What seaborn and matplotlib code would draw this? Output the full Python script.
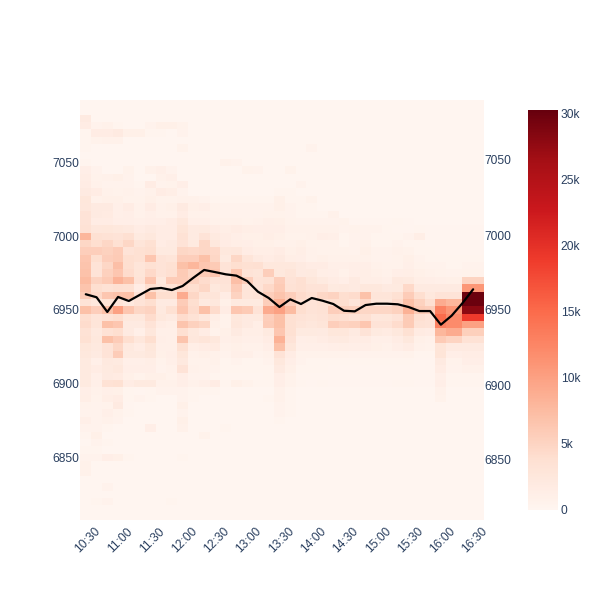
import matplotlib
matplotlib.use("Agg")
import matplotlib.pyplot as plt
from matplotlib.transforms import ScaledTranslation
import seaborn as sns
import numpy as np
import pandas as pd

sns.set_theme(style="white")
plt.rcParams["font.family"] = ["Liberation Sans", "DejaVu Sans"]

TEXT = "#2a3f5f"
FS = 8.64

tick_times = ["10:30", "11:00", "11:30", "12:00", "12:30", "13:00", "13:30",
              "14:00", "14:30", "15:00", "15:30", "16:00", "16:30"]
left_prices = [7050, 7000, 6950, 6900, 6850]
right_prices = [7050, 7000, 6950, 6900, 6850]
cbar_values = [0, 5, 10, 15, 20, 25, 30]
cbar_labels = ["0", "5k", "10k", "15k", "20k", "25k", "30k"]

# close price every 10 minutes from 10:30
minutes = list(range(0, 370, 10))
close = [6960.5, 6958.5, 6948.7, 6958.7, 6956, 6960, 6964, 6964.7, 6963.3, 6966,
         6971.5, 6976.7, 6975.3, 6973.8, 6972.9, 6969.3, 6962.2, 6958, 6952, 6957.1,
         6954, 6958, 6956.2, 6954, 6949.5, 6949.1, 6953.3, 6954.2, 6954.2, 6953.8,
         6952, 6949.3, 6949.3, 6940.2, 6946.2, 6954.5, 6963.8]

# volume in thousands, top row is price 7090, each row 5 lower
# 36 columns: 10:30 to 16:10 then 16:30 (16:20 is missing)
volume = [
    [.1]*36,
    [.1]*36,
    [1.9]+[.1]*35,
    [1.6,.5,.8,.3,.1,.1,.5,1,1,.6]+[.1]*26,
    [.3,1.6,1.6,2,1,1,.3,.3,.1,.5]+[.1]*26,
    [.3,.6,.8,.8]+[.1]*32,
    [.3,.1,.1,.1,.1,.1,.1,.1,.1,.6,.1,.1,.1,.1,.1,.1,.1,.1,.1,.1,.1,.5]+[.1]*14,
    [.1]*36,
    [.3,.1,.1,.1,.1,.1,.1,.1,.1,.1,.1,.1,.1,.8,.5]+[.1]*21,
    [1.3,.5,.1,.1,.6,.1,.8,1.1,.5,.1,.1,.1,.1,.1,.1,.6,.5,.1,.1,.6]+[.1]*16,
    [1.5,.6,.8,1,.5,.1,.1,.8,1.1]+[.1]*27,
    [1.6,.8,.5,.5,.5,.3,1.6,.5,.6,1.3,.1,.1,.1,.1,.1,.1,.1,.1,.1,.1,.5]+[.1]*15,
    [2,1.6,.8,.6,.8,.5,.8,1.6,1.4,.5,.1,.1,.1,.1,.1,.1,.1,.1,.3,.3]+[.1]*16,
    [2.7,.8,1,1,.6,.6,1,.6,.6,.8,.8,.5,.3,.3,.3,.3,.3,.3,1,.3,.3,.6]+[.1]*14,
    [2.6,2,2,1.1,1.6,.8,1.6,.8,1,2,1,1.3,.6,.5,.5,.5,.5,.5,1,.5,.3,.3]+[.1]*14,
    [3.2,2,1.8,1.1,1.3,.8,1.1,.8,.8,1.6,.8,.8,.6,.5,.5,.5,.5,.6,.6,.5,.3,.3,.3,.8]+[.1]*12,
    [3.2,1.6,1.6,1.3,1.3,1.1,1.3,1.3,1.6,2.4,1.1,1.1,.8,.8,.8,.6,.8,1.1,1,.6,.5,.5,.5,.5,.6,.2,.2,.2,.2,.3,.2,.1,.1,.1,.1,.1],
    [3.5,2.6,2.7,2.4,2.2,1.6,1.9,1.6,1.6,3,1.9,2.1,1.6,1.4,1.6,1.4,1.3,1.3,1.3,.8,.8,.8,.8,.8,.5,.6,.5,.5,.3,.2,.2,.3,.2,.2,.2,.2],
    [8,3.7,3.5,3.2,3.8,2.1,2.4,1.6,1.6,3.5,1.9,3.2,2.1,1.6,1.3,1,1,1.4,1,.6,.6,.8,1.3,1.1,.3,.5,.5,.3,.3,.3,.5,1.4,.2,.2,.2,.2],
    [4.8,4,4.8,3.7,4.8,2.9,3.7,1.6,1.9,3.2,2.1,4.8,2.4,1.6,1.4,1.3,1,1,.8,.8,1,.6,.6,.6,.3,.5,.8,.3,.3,.5,.3,.3,.2,.2,.2,.2],
    [5.6,5.6,5.3,5.8,3.2,3.7,4,2.1,2.1,4.8,4.5,4.8,4.5,2.4,2.6,1.6,1.4,1.4,1.6,1,1.4,.8,.6,.6,.6,.5,1,.5,.5,.8,.6,.3,.3,.2,.2,.2],
    [6.4,4,5.6,6,4,3.7,6.4,3.2,2.9,5.6,5.6,7,4.8,2.1,4.8,2.9,1.9,1.6,1.9,1.4,1.3,.8,1,.8,.8,.8,.8,.5,.5,.6,1,.5,.3,.3,.3,.3],
    [6.7,3.2,4.8,7.2,4,2.9,3.7,3.2,3.7,7,8,6.4,6,3.2,4,3.7,3.8,2.4,2.4,2.4,1.9,1.6,1.6,1.1,1.1,1.3,1.3,.8,.6,.6,1.1,.6,.5,.5,.3,.5],
    [6.9,3.2,5.4,6.4,4.2,3,4.5,3.2,3.8,6,4.8,6,6.4,3.2,6.4,3.2,2.9,5.6,2.4,2.9,1.9,2.1,1.4,1.3,.8,1.3,1.4,1,.8,1.3,1.4,1,.8,.6,.5,.6],
    [7.5,5.1,6,8.4,7,3.2,6.4,2.4,5.8,5.9,5.1,4.2,3.2,3.2,7.2,5.6,3.2,3.5,5.6,3.2,3.8,2.7,2.1,1.6,1.3,1.9,1.4,1.4,1.1,2.2,2.1,1.4,1.3,1.1,1,5],
    [6.7,4,3.5,3.8,3.7,1.6,4,2.9,3.5,4.5,4,4.8,2.4,2.9,5.8,2.9,3.2,4.5,6,3.5,3.8,3.2,3.2,2.1,2.2,1.9,2.4,2.4,1.9,2.1,4.5,1.9,1.9,1.9,1.9,11],
    [5.9,4.6,6.4,6.9,7,3.2,7,4,4,9,4.8,2.9,2.9,1.6,5.1,2.9,3.2,5.6,6.7,5.6,4.3,3.8,4.8,5.1,4,4.2,6.9,2.9,2.9,3.7,5.8,4,2.4,3.2,3.2,30],
    [3.2,2.4,3,2.9,2.2,3.2,4,1.9,1.9,5.8,4,2.1,2.4,1,2.1,2.1,2.1,5.6,8.5,5.6,4,3.2,3.7,4,4,2.9,4.5,2.7,2.7,4.2,7,5.3,3.8,9,8,30],
    [7,5.6,7,10,6.4,4.8,5.1,2.2,3.7,6.4,4.2,7,4.2,1.6,6.4,6,3.2,9,10,7.5,4,3.2,3.5,5.6,5.4,5.3,4.8,4.8,4.8,5.3,8.5,6,5.6,13,11,28],
    [4,2.9,3.5,4,2.4,2.4,4.2,2.4,1.9,4.2,3.5,2.4,1.4,.6,2.4,1.9,2.1,5.6,7,3.7,3.2,2.9,3.2,4,3.8,3.2,3.8,2.6,2.7,3.2,6,3.8,3.2,15,12,19],
    [4.2,2.9,7,6.4,1.9,1.9,3.2,1.6,1.4,6.7,5.4,4.8,1,.6,2.6,1.9,1.4,5.8,7,3.7,2.9,2.6,2.9,5.6,5.1,5.4,6.4,3.2,3.2,4.2,6,3.5,3.2,13,12,10],
    [3.5,2.2,3.5,4,1.9,1.1,2.6,1.1,1.1,3.8,2.4,1.6,.6,1,1.9,1.4,1.4,2.1,6.4,3.7,2.1,2.1,1.9,2.7,2.7,1.9,3.2,2.1,1.8,2.4,3.7,1.8,1.6,8,9,5.5],
    [3.7,2.4,7,5.9,4,2.6,4,1.3,1.1,6.7,2.6,2.9,2.4,1.1,1.4,1.1,1.1,1.6,8.5,3.2,1.3,1.4,1.6,1.9,2.1,1.6,1.6,1.1,1.1,1.6,2.4,1,.8,6,5,3.5],
    [2.7,2.2,3.2,4.8,2.2,1.6,2.7,1.1,1.1,3.7,1.4,1.6,1.8,.8,1,.8,.8,1.3,7,2.7,1.1,1.1,1.1,1.3,1.4,1.3,1.3,1,.8,1.3,1.6,.8,.6,3,2,2],
    [2.4,1.9,3.2,5.9,2.1,2.1,2.4,1,1.3,2.7,.8,1,.8,.5,1.1,1.1,.5,.8,3.2,1.6,.6,.6,.6,.6,.6,.5,.5,.5,.5,.5,.6,.3,.3,3,1.2,1.5],
    [2.1,1.1,2.2,2.1,1.1,1.1,1.4,.6,1.1,2.2,.6,.6,.8,.3,.5,.3,.3,.5,2.4,1.3,.5,.3,.3,.3,.3,.3,.3,.3,.3,.3,.3,.2,.2,1.9,.6,1.3],
    [2.1,1.6,2.1,2.4,1.3,1.3,1.3,.5,.8,3.2,.8,.6,.5,.3,.3,.3,.3,.3,1.9,1,.3,.3,.3,.2,.2,.2,.2,.2,.2,.2,.2,.2,.2,1.6,.5,.8],
    [2.1,1.1,1.9,1.8,1,.6,1,1,.6,1.3,.5,.5,.3,.2,.2,.2,.2,.3,1.3,.6,.2,.2,.2,.2,.2,.2,.2,.2,.2,.2,.2,.2,.2,1.1,.3,.3],
    [2.1,1.1,3.5,3.7,1.6,2.1,2.1,.8,.8,1.3,.8,1.1,1.6,.3,1,.6,.3,.3,1.3,.6,.3,.2,.3,.2,.2,.2,.2,.2,.2,.3,.3,.2,.2,1.3,.3,.3],
    [1.3,.8,1.1,1,.3,.2,.3,.5,.5,.5,.3,.3,.3,.1,.1,.1,.1,.1,.8,.3]+[.1]*13+[.8,.1,.1],
    [1.4,.6,1.4,1.6,.3,.5,.3,.1,.1,.5,.3,.1,.1,.1,.1,.1,.1,.3,.8,.3]+[.1]*13+[.6,.1,.1],
    [.6,.5,.6,1.9,.2,.1,.1,.1,.1,1,.1,.1,.1,.1,.1,.1,.1,.1,.5,.3]+[.1]*16,
    [.5,.5,1.1,.6,.3,.1,.1,.1,.1,.5,.1,.1,.1,.1,.1,.1,.1,.1,.5,.3]+[.1]*16,
    [1.1,.5,.8,.5,.1,.1,.1,.1,.1,1,.1,.1,.1,.1,.1,.1,.1,.1,.3]+[.1]*17,
    [.5,.5,.3,.1,.1,.1,1.3,.1,.1,.8,.1,.1,.1,.3]+[.1]*22,
    [.3,1,.1,.1,.1,.1,.1,.1,.1,.1,.1,.6]+[.1]*24,
    [.1,.5,.3]+[.1]*33,
    [.3,.3]+[.1]*34,
    [.5,.5,1.3,1,.3,.1,.1,.1,.1,.3]+[.1]*26,
    [.8]+[.1]*35,
    [.8]+[.1]*35,
    [.1]*36,
    [.1,.1,.5]+[.1]*33,
    [.1]*36,
    [.1,.3,.5,.1,.1,.1,.1,.1,.3]+[.1]*27,
    [.1]*36,
    [.1]*36,
]

# the last two cells are wider because 16:20 has no heatmap column
col_widths = [2]*34 + [3, 4]
z = np.repeat(np.array(volume), col_widths, axis=1)

fig = plt.figure(figsize=(6, 6), dpi=100)
ax = fig.add_axes([80.4/600, 80/600, 403.5/600, 420/600])
cax = fig.add_axes([528/600, 90/600, 30/600, 400/600])

sns.heatmap(pd.DataFrame(z), ax=ax, cbar_ax=cax, cmap="Reds", vmin=0, vmax=30.3,
            xticklabels=False, yticklabels=False, linewidths=0, rasterized=True)
ax.set_xlabel("")
ax.set_ylabel("")
ax.set_yticks([(7092.5 - p) / 5 for p in left_prices])
ax.set_yticklabels(left_prices, rotation=0)
ax.tick_params(axis="y", length=0, pad=1, labelsize=FS, labelcolor=TEXT)
for s in ax.spines.values():
    s.set_visible(False)

cax.set_yticks(cbar_values)
cax.set_yticklabels(cbar_labels)
cax.tick_params(axis="y", length=0, pad=2, labelsize=FS, labelcolor=TEXT)
for s in cax.spines.values():
    s.set_visible(False)
cax.collections[0].set_rasterized(True)

# price line sits on its own axes, right y axis has a slightly different range
lax = fig.add_axes(ax.get_position(), facecolor="none")
line_df = pd.DataFrame({"minute": minutes, "close": close})
sns.lineplot(data=line_df, x="minute", y="close", ax=lax, color="black",
             linewidth=1.6, estimator=None, sort=False)
lax.set_xlim(-5, 370)
lax.set_ylim(6810, 7090)
lax.set_xlabel("")
lax.set_ylabel("")
lax.set_xticks(range(0, 370, 30))
lax.set_xticklabels(tick_times, rotation=45, ha="center", va="top")
lax.yaxis.tick_right()
lax.set_yticks(right_prices)
lax.set_yticklabels(right_prices)
lax.tick_params(axis="x", length=0, pad=4, labelsize=FS, labelcolor=TEXT)
lax.tick_params(axis="y", length=0, pad=0, labelsize=FS, labelcolor=TEXT)
for s in lax.spines.values():
    s.set_visible(False)
# nudge the rotated labels to the right a little
shift = ScaledTranslation(2/100, 0, fig.dpi_scale_trans)
for lbl in lax.get_xticklabels():
    lbl.set_transform(lbl.get_transform() + shift)

fig.savefig("out.png", dpi=100)
